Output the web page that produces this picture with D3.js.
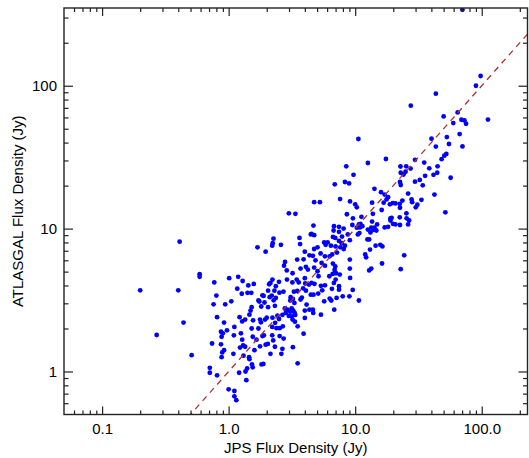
<!DOCTYPE html>
<html>
<head>
<meta charset="utf-8">
<script src="https://cdn.jsdelivr.net/npm/d3@7"></script>
<style>
  body { margin: 0; background: #fff; }
  svg { display: block; font-family: "Liberation Sans", Arial, Helvetica, sans-serif; }
</style>
</head>
<body>
<svg id="chart" width="529" height="458"></svg>
<script>
// JPS vs ATLASGAL flux densities (Jy)
const jpsFlux = [
  0.41, 0.20, 0.40, 0.59, 0.59, 0.44, 0.27, 0.51, 0.71, 0.71, 0.81, 0.74, 0.77, 0.80, 0.76, 0.81,
  1.01, 1.19, 1.29, 1.43, 1.58, 1.17, 1.27, 1.41, 1.51, 1.05, 0.94, 0.92, 0.87, 0.90, 0.88, 0.97,
  1.11, 1.10, 1.22, 1.35, 1.28, 1.46, 1.25, 1.28, 1.30, 1.23, 1.35, 0.87, 0.92, 0.89, 0.88, 1.09,
  1.31, 1.45, 1.46, 1.21, 1.38, 1.36, 1.40, 1.53, 1.55, 1.00, 1.11, 1.11, 1.15, 1.69, 1.96, 2.21,
  2.23, 2.26, 2.59, 3.63, 3.67, 4.00, 4.35, 4.46, 2.79, 2.74, 2.88, 3.48, 3.91, 3.70, 4.08, 3.20,
  4.00, 4.23, 2.89, 2.50, 2.22, 2.14, 2.09, 2.36, 3.45, 3.19, 3.58, 4.03, 4.31, 3.88, 4.08, 3.49,
  3.28, 4.46, 2.71, 2.52, 2.30, 2.05, 1.85, 1.89, 2.19, 2.11, 2.36, 2.27, 1.72, 1.75, 1.92, 2.32,
  2.05, 1.81, 1.52, 1.49, 3.09, 3.22, 3.07, 3.31, 3.79, 3.70, 4.13, 4.35, 4.00, 2.78, 2.92, 3.15,
  3.07, 3.24, 3.32, 3.36, 3.16, 2.83, 2.99, 3.20, 3.34, 3.51, 4.00, 3.91, 2.66, 2.43, 2.50, 2.22,
  2.33, 2.21, 2.39, 2.53, 2.68, 2.00, 1.94, 1.77, 1.80, 1.72, 1.56, 1.52, 1.55, 1.66, 1.85, 1.90,
  1.96, 2.04, 2.21, 2.25, 2.53, 2.72, 2.32, 2.66, 1.77, 1.60, 2.14, 2.61, 3.22, 3.51, 1.82, 1.88,
  10.6, 8.5, 12.6, 17.5, 9.7, 6.9, 8.3, 8.95, 4.74, 5.26, 7.6, 9.1, 10.0, 10.3, 2.99, 3.37,
  8.6, 9.6, 11.2, 6.8, 7.45, 8.1, 4.68, 4.52, 4.74, 6.75, 7.45, 6.67, 6.96, 7.87, 8.74, 9.07,
  7.45, 7.83, 8.3, 7.63, 7.0, 6.43, 5.69, 5.84, 6.06, 4.74, 5.04, 5.33, 5.77, 6.29, 6.58, 7.18,
  8.12, 4.63, 4.86, 5.43, 5.77, 4.74, 5.04, 5.13, 6.25, 6.64, 7.05, 6.67, 6.96, 6.88, 7.55, 6.79,
  7.01, 7.45, 7.45, 6.55, 5.77, 5.49, 5.10, 5.36, 4.77, 4.52, 4.68, 6.29, 6.47, 7.13, 7.97, 9.0,
  9.56, 9.12, 9.07, 9.07, 12.0, 12.2, 13.4, 12.9, 10.7, 6.83, 5.36, 4.63, 4.66, 5.69, 14.5, 15.8,
  16.4, 13.1, 12.5, 12.9, 10.7, 11.0, 10.3, 10.9, 10.8, 10.5, 9.5, 11.4, 12.6, 13.4, 13.2, 13.9,
  14.2, 14.7, 14.9, 13.6, 13.8, 13.6, 14.2, 16.0, 17.1, 17.7, 16.8, 18.2, 18.8, 19.8, 20.8, 22.5,
  23.6, 22.6, 16.2, 19.0, 19.4, 19.0, 17.1, 18.2, 19.9, 20.8, 22.5, 22.6, 25.5, 25.4, 26.2, 26.7,
  27.9, 28.2, 30.1, 31.0, 33.4, 26.2, 42.3, 51.6, 22.8, 25.3, 27.4, 25.0, 24.1, 22.9, 29.7, 32.4,
  35.1, 38.5, 44.8, 44.5, 41.6, 35.7, 34.2, 48.2, 50.6, 52.5, 40.1, 43.4, 55.1, 56.8, 24.4, 22.9,
  16.3, 22.6, 22.9, 70.4, 98, 90, 43.4, 27.5, 50, 64.5, 59.6, 69.1, 73, 75.2, 112, 53,
  66.9, 70.4, 29.7
];
const atlasgalFlux = [
  8.1, 3.7, 3.7, 4.8, 4.6, 2.2, 1.8, 1.30, 1.06, 0.98, 0.94, 1.57, 4.2, 3.4, 2.95, 2.4,
  4.5, 4.6, 4.3, 4.0, 4.1, 3.8, 3.5, 3.55, 3.55, 3.1, 2.95, 2.2, 1.9, 1.85, 1.75, 1.94,
  2.05, 1.79, 2.4, 2.31, 2.24, 2.5, 1.85, 1.67, 1.52, 1.47, 1.49, 1.55, 1.41, 1.36, 1.26, 1.33,
  1.29, 1.26, 1.22, 0.98, 0.87, 1.00, 1.05, 1.12, 1.07, 0.75, 0.73, 0.67, 0.63, 7.4, 6.9, 7.6,
  7.9, 8.5, 7.7, 8.6, 7.8, 6.9, 6.5, 9.1, 5.85, 5.5, 5.1, 6.07, 6.1, 5.25, 5.4, 4.87,
  4.5, 5.17, 4.4, 4.24, 4.4, 4.17, 4.08, 3.95, 4.4, 4.2, 4.2, 4.13, 4.06, 3.82, 3.68, 3.66,
  3.62, 3.45, 3.62, 3.56, 3.68, 3.68, 3.41, 3.38, 3.4, 3.31, 3.27, 3.15, 3.14, 3.09, 3.04, 2.88,
  2.82, 2.85, 2.82, 2.67, 3.31, 3.22, 3.14, 3.02, 3.29, 3.19, 2.94, 2.71, 2.67, 2.76, 2.71, 2.76,
  2.62, 2.67, 2.57, 2.49, 2.43, 2.57, 2.45, 2.31, 2.23, 2.07, 2.37, 1.84, 2.49, 2.46, 2.33, 2.38,
  2.19, 2.05, 2.01, 2.01, 2.07, 2.38, 2.31, 2.31, 2.21, 2.0, 2.28, 2.0, 1.75, 1.67, 1.77, 1.79,
  1.54, 1.56, 1.79, 1.65, 1.77, 1.70, 1.49, 1.44, 1.50, 1.41, 1.33, 1.33, 1.48, 1.14, 1.12, 1.13,
  42.4, 27.3, 28.8, 30.7, 23.8, 20.4, 21.2, 20.7, 15.3, 15.3, 16.1, 15.5, 14.8, 14.1, 12.8, 12.7,
  12.6, 11.8, 12.1, 10.4, 10.3, 10.0, 10.5, 9.2, 9.0, 9.7, 9.5, 8.75, 8.6, 8.8, 9.1, 8.3,
  8.2, 7.9, 7.6, 7.4, 7.5, 7.6, 8.0, 7.7, 8.0, 7.2, 7.4, 6.7, 6.4, 6.4, 6.6, 6.8,
  7.2, 6.45, 6.0, 5.75, 5.5, 5.34, 5.03, 4.64, 4.64, 4.82, 4.87, 5.69, 5.43, 5.14, 4.77, 4.17,
  4.4, 3.95, 3.74, 3.79, 4.01, 3.70, 3.51, 3.98, 4.11, 4.17, 3.45, 3.24, 3.14, 3.27, 3.36, 3.36,
  3.72, 4.52, 5.25, 6.07, 6.6, 6.3, 5.25, 5.1, 3.14, 2.71, 2.5, 2.71, 2.57, 3.10, 7.6, 7.7,
  7.5, 7.13, 8.4, 8.4, 10.7, 10.8, 10.15, 10.2, 9.3, 9.1, 10.6, 10.4, 9.84, 10.15, 9.4, 9.8,
  10.15, 9.7, 10.7, 11.2, 12.7, 15.2, 19.0, 18.0, 17.3, 16.0, 15.2, 16.6, 14.8, 15.1, 15.0, 14.9,
  15.7, 14.0, 13.5, 11.8, 11.9, 11.4, 10.2, 10.3, 10.8, 10.7, 12.0, 10.6, 11.8, 12.8, 10.7, 11.4,
  16.0, 15.3, 14.1, 14.7, 15.9, 17.6, 17.3, 13.0, 27.2, 27.3, 26.3, 25.0, 23.9, 24.6, 21.3, 21.9,
  29.0, 26.4, 27.3, 24.6, 23.8, 23.4, 20.1, 30.6, 32.4, 33.3, 42.6, 37.5, 39.1, 22.7, 6.5, 5.2,
  5.7, 21.2, 20.2, 340, 117, 100, 88, 72.5, 61, 65, 54.8, 57.8, 57.2, 54.2, 58, 43.7,
  45.9, 37.6, 30.3
];

const xMajorTicks = [0.1, 1, 10, 100];
const xTickLabels = ["0.1", "1.0", "10.0", "100.0"];
const yMajorTicks = [1, 10, 100];
const yTickLabels = ["1", "10", "100"];
const xDomain = [0.05, 230];
const yDomain = [0.5, 350];
// 1:1 line end points
const oneToOne = [0.05, 230];

const svg = d3.select("#chart");
const plotLeft = 64, plotRight = 527.5, plotTop = 8, plotBottom = 414.5;
const axisColor = "#222";

const x = d3.scaleLog().domain(xDomain).range([plotLeft, plotRight]);
const y = d3.scaleLog().domain(yDomain).range([plotBottom, plotTop]);

const isMajor = (list) => (d) => list.some(m => Math.abs(Math.log10(d) - Math.log10(m)) < 1e-6);
const xMinor = x.ticks().filter(d => !isMajor(xMajorTicks)(d) && d > xDomain[0]);
const yMinor = y.ticks().filter(d => !isMajor(yMajorTicks)(d) && d > yDomain[0]);

svg.append("defs").append("clipPath").attr("id", "plot-clip")
  .append("rect")
  .attr("x", plotLeft).attr("y", plotTop)
  .attr("width", plotRight - plotLeft).attr("height", plotBottom - plotTop);

const n = Math.min(jpsFlux.length, atlasgalFlux.length);
const points = d3.range(n).map(i => [jpsFlux[i], atlasgalFlux[i]]);

// points
svg.append("g")
  .attr("clip-path", "url(#plot-clip)")
  .selectAll("circle")
  .data(points)
  .join("circle")
  .attr("cx", d => x(d[0]))
  .attr("cy", d => y(d[1]))
  .attr("r", 2.4)
  .attr("fill", "#0000ff");

// dashed 1:1 line
svg.append("path")
  .attr("clip-path", "url(#plot-clip)")
  .datum(oneToOne.map(v => [v, v]))
  .attr("d", d3.line().x(d => x(d[0])).y(d => y(d[1])))
  .attr("fill", "none")
  .attr("stroke", "#b03030")
  .attr("stroke-width", 1.3)
  .attr("stroke-dasharray", "6,5");

function styleAxis(g) {
  g.select(".domain").remove();
  g.attr("font-family", null).attr("font-size", 15).attr("color", axisColor);
  g.selectAll(".tick line").attr("stroke-width", 1.2);
  g.selectAll(".tick text").attr("fill", "#000");
}

function addAxis(axis, tx, ty) {
  svg.append("g")
    .attr("transform", `translate(${tx},${ty})`)
    .call(axis)
    .call(styleAxis);
}

// bottom + top
addAxis(d3.axisBottom(x).tickValues(xMajorTicks).tickSize(-8).tickSizeOuter(0)
  .tickPadding(9).tickFormat((d, i) => xTickLabels[i]), 0, plotBottom);
addAxis(d3.axisBottom(x).tickValues(xMinor).tickSize(-4).tickSizeOuter(0).tickFormat(""), 0, plotBottom);
addAxis(d3.axisTop(x).tickValues(xMajorTicks).tickSize(-8).tickSizeOuter(0).tickFormat(""), 0, plotTop);
addAxis(d3.axisTop(x).tickValues(xMinor).tickSize(-4).tickSizeOuter(0).tickFormat(""), 0, plotTop);

// left + right
addAxis(d3.axisLeft(y).tickValues(yMajorTicks).tickSize(-9).tickSizeOuter(0)
  .tickPadding(7).tickFormat((d, i) => yTickLabels[i]), plotLeft, 0);
addAxis(d3.axisLeft(y).tickValues(yMinor).tickSize(-4.5).tickSizeOuter(0).tickFormat(""), plotLeft, 0);
addAxis(d3.axisRight(y).tickValues(yMajorTicks).tickSize(-9).tickSizeOuter(0).tickFormat(""), plotRight, 0);
addAxis(d3.axisRight(y).tickValues(yMinor).tickSize(-4.5).tickSizeOuter(0).tickFormat(""), plotRight, 0);

// frame
svg.append("rect")
  .attr("x", plotLeft).attr("y", plotTop)
  .attr("width", plotRight - plotLeft).attr("height", plotBottom - plotTop)
  .attr("fill", "none")
  .attr("stroke", axisColor)
  .attr("stroke-width", 1.4);

// axis titles
svg.append("text")
  .attr("x", (plotLeft + plotRight) / 2)
  .attr("y", 453)
  .attr("text-anchor", "middle")
  .attr("font-size", 15)
  .text("JPS Flux Density (Jy)");

svg.append("text")
  .attr("transform", `translate(23,${(plotTop + plotBottom) / 2}) rotate(-90)`)
  .attr("text-anchor", "middle")
  .attr("font-size", 15)
  .text("ATLASGAL Flux Density (Jy)");
</script>
</body>
</html>
